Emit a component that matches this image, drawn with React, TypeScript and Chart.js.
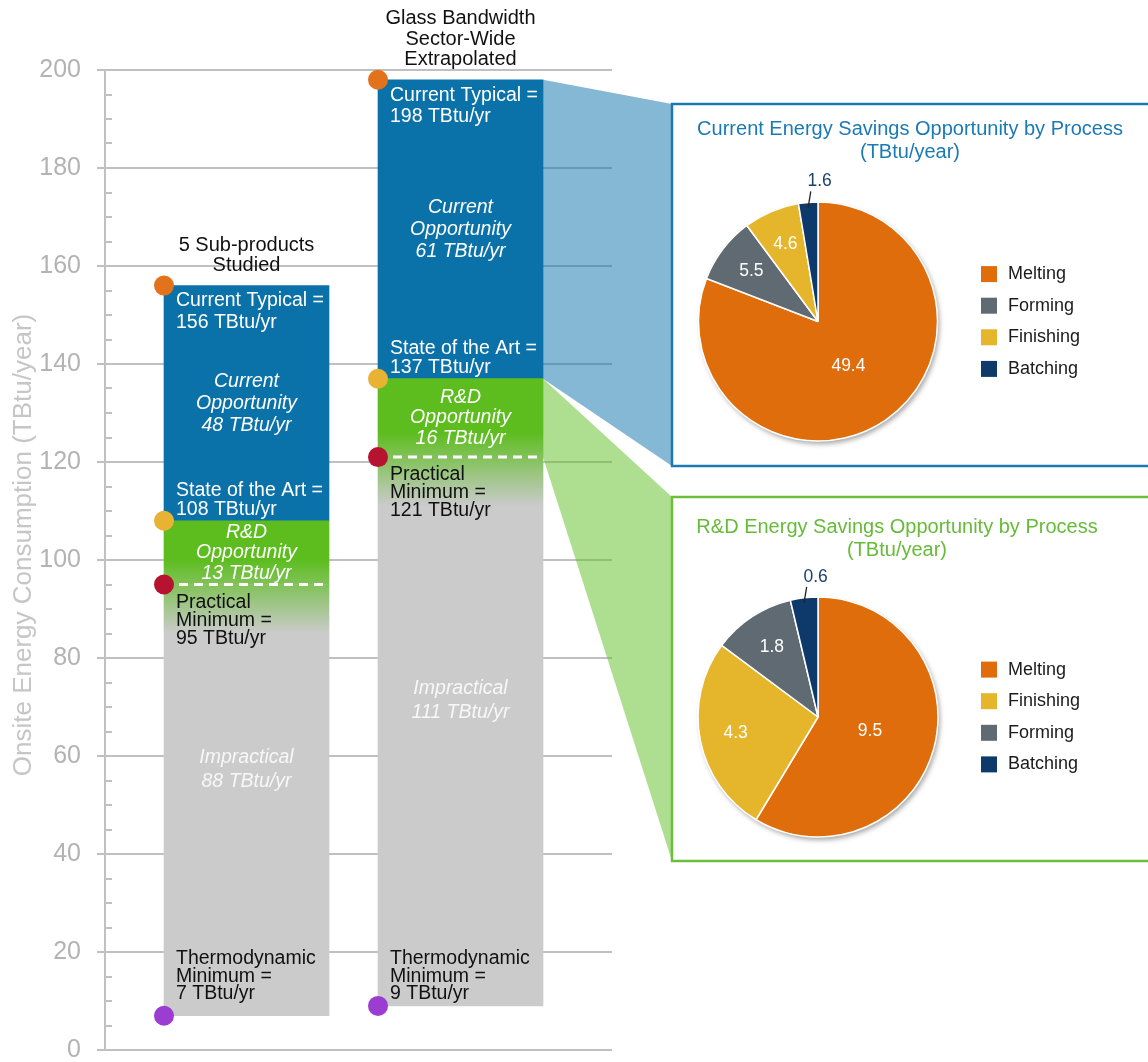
import React, { useEffect, useRef } from 'react';
import { Chart, registerables } from 'chart.js';

Chart.register(...registerables);

const W = 1148;
const H = 1062;
const FONT = '"Liberation Sans", Arial, Helvetica, sans-serif';

// ---------------- data ----------------
const barHeaders: string[][] = [
  ['5 Sub-products', 'Studied'],
  ['Glass Bandwidth', 'Sector-Wide', 'Extrapolated'],
];
const barSlots = [1, 2];
const currentTypical = [156, 198];
const stateOfTheArt = [108, 137];
const practicalMinimum = [95, 121];
const thermodynamicMinimum = [7, 9];
const currentOpportunity = [48, 61];
const rdOpportunity = [13, 16];
const impractical = [88, 111];

const yAxisMin = 0;
const yAxisMax = 200;
const yMajorStep = 20;
const yMinorStep = 5;
const yAxisTitle = 'Onsite Energy Consumption (TBtu/year)';

const currentPieTitle = ['Current Energy Savings Opportunity by Process', '(TBtu/year)'];
const currentPieLabels = ['Melting', 'Forming', 'Finishing', 'Batching'];
const currentPieValues = [49.4, 5.5, 4.6, 1.6];

const rdPieTitle = ['R&D Energy Savings Opportunity by Process', '(TBtu/year)'];
const rdPieLabels = ['Melting', 'Finishing', 'Forming', 'Batching'];
const rdPieValues = [9.5, 4.3, 1.8, 0.6];

// ---------------- styles / layout ----------------
const BLUE = '#0b72a9';
const GREEN = '#5dbd1f';
const GRAY = '#cbcbcb';
const AXIS_GRAY = '#c0c0c0';
const TEXT_DARK = '#111111';
const PROCESS_COLORS: Record<string, string> = {
  Melting: '#df6d0b',
  Forming: '#5f6a72',
  Finishing: '#e5b52c',
  Batching: '#0d3a6a',
};
const DOT = { typical: '#e2721b', art: '#e8b232', practical: '#b5132f', thermo: '#9b3dd1' };
const BAR_THICKNESS = 165;
const X_MIN = 0.3388;
const X_MAX = 2.7079;
const PLOT = { top: 70, bottom: 1050, left: 105, right: 612 };
const Y_TITLE_POS = { x: 24, y: 545 };
const FADE_ABOVE = 5;
const FADE_BELOW = 10;
const BOXES = [
  { x1: 672, y1: 104, x2: 1152, y2: 466, stroke: '#1c79b2', fill: 'rgba(11,114,169,0.5)' },
  { x1: 672, y1: 497, x2: 1152, y2: 861, stroke: '#6cbf3b', fill: 'rgba(93,189,31,0.5)' },
];
const PIE_LAYOUT = [
  { cx: 818, cy: 321.5, r: 119.5, titleX: 910, titleY: 129.5, titleColor: '#1b7ab4' },
  { cx: 818, cy: 717, r: 120, titleX: 897, titleY: 527.5, titleColor: '#66bb38' },
];
const PIE_BORDER = 1.5;

function drawLines(
  ctx: CanvasRenderingContext2D,
  arr: string[],
  x: number,
  y0: number,
  dy: number,
  align: CanvasTextAlign,
  font: string,
  color: string
) {
  ctx.font = font;
  ctx.fillStyle = color;
  ctx.textAlign = align;
  ctx.textBaseline = 'middle';
  arr.forEach((t, k) => ctx.fillText(t, x, y0 + k * dy));
}

const fadeFill = (c: any) => {
  const chart = c.chart;
  const y = chart.scales && chart.scales.y;
  if (c.type !== 'data' || !chart.chartArea || !y) return GREEN;
  const pm = practicalMinimum[c.dataIndex];
  const g = chart.ctx.createLinearGradient(
    0,
    y.getPixelForValue(pm + FADE_ABOVE),
    0,
    y.getPixelForValue(pm - FADE_BELOW)
  );
  g.addColorStop(0, GREEN);
  g.addColorStop(1, GRAY);
  return g;
};

const mainPlugin = {
  id: 'bandwidthOverlay',
  beforeDatasetsDraw(chart: any) {
    const { ctx, chartArea, scales } = chart;
    const y = scales.y;
    ctx.save();
    // y axis title
    ctx.save();
    ctx.translate(Y_TITLE_POS.x, Y_TITLE_POS.y);
    ctx.rotate(-Math.PI / 2);
    drawLines(ctx, [yAxisTitle], 0, 0, 0, 'center', `26px ${FONT}`, '#c6c6c6');
    ctx.restore();
    // minor tick marks
    ctx.strokeStyle = AXIS_GRAY;
    ctx.lineWidth = 2;
    for (let v = yAxisMin + yMinorStep; v < yAxisMax; v += yMinorStep) {
      if (v % yMajorStep === 0) continue;
      const py = Math.round(y.getPixelForValue(v));
      ctx.beginPath();
      ctx.moveTo(chartArea.left, py);
      ctx.lineTo(chartArea.left + 7, py);
      ctx.stroke();
    }
    // connectors from the sector-wide bar to the pie boxes
    const el = chart.getDatasetMeta(2).data[1];
    const xr = el.x + el.width / 2;
    const spans: [number, number][] = [
      [currentTypical[1], stateOfTheArt[1]],
      [stateOfTheArt[1], practicalMinimum[1]],
    ];
    spans.forEach(([top, bottom], k) => {
      const box = BOXES[k];
      ctx.fillStyle = box.fill;
      ctx.beginPath();
      ctx.moveTo(xr, y.getPixelForValue(top));
      ctx.lineTo(box.x1, box.y1);
      ctx.lineTo(box.x1, box.y2);
      ctx.lineTo(xr, y.getPixelForValue(bottom));
      ctx.closePath();
      ctx.fill();
    });
    ctx.restore();
  },
  afterDatasetsDraw(chart: any) {
    const { ctx, chartArea, scales } = chart;
    const y = scales.y;
    ctx.save();
    const reg = `19.5px ${FONT}`;
    const ital = `italic 19.5px ${FONT}`;
    const metas = chart.getDatasetMeta(2).data;
    barSlots.forEach((_, i) => {
      const el = metas[i];
      const xl = el.x - el.width / 2;
      const xc = el.x;
      const yTop = y.getPixelForValue(currentTypical[i]);
      const ySA = y.getPixelForValue(stateOfTheArt[i]);
      const yPM = y.getPixelForValue(practicalMinimum[i]);
      const yTM = y.getPixelForValue(thermodynamicMinimum[i]);

      // dashed practical-minimum line
      ctx.save();
      ctx.strokeStyle = '#ffffff';
      ctx.lineWidth = 3;
      ctx.setLineDash([9, 6]);
      ctx.beginPath();
      ctx.moveTo(xl, yPM);
      ctx.lineTo(xl + el.width, yPM);
      ctx.stroke();
      ctx.restore();

      // headers
      const hdr = barHeaders[i];
      drawLines(ctx, hdr, xc, yTop - 20 - (hdr.length - 1) * 20.5, 20.5, 'center', `20px ${FONT}`, TEXT_DARK);

      drawLines(ctx, ['Current Typical =', `${currentTypical[i]} TBtu/yr`], xl + 12, yTop + 15.5, 21.5, 'left', reg, '#ffffff');
      drawLines(ctx, ['Current', 'Opportunity', `${currentOpportunity[i]} TBtu/yr`], xc, (yTop + ySA) / 2 - 22, 22, 'center', ital, '#ffffff');
      drawLines(ctx, ['State of the Art =', `${stateOfTheArt[i]} TBtu/yr`], xl + 12, ySA - 30.5, 19.5, 'left', reg, '#ffffff');
      drawLines(ctx, ['R&D', 'Opportunity', `${rdOpportunity[i]} TBtu/yr`], xc, (ySA + yPM) / 2 - 20.5, 20.5, 'center', ital, '#ffffff');
      drawLines(ctx, ['Practical', 'Minimum =', `${practicalMinimum[i]} TBtu/yr`], xl + 12, yPM + 18, 18, 'left', reg, TEXT_DARK);
      drawLines(ctx, ['Impractical', `${impractical[i]} TBtu/yr`], xc, (yPM + yTM) / 2 - 31 - 12, 24, 'center', ital, 'rgba(255,255,255,0.85)');
      drawLines(ctx, ['Thermodynamic', 'Minimum =', `${thermodynamicMinimum[i]} TBtu/yr`], xl + 12, chartArea.bottom - 91, 17.5, 'left', reg, TEXT_DARK);

      // marker dots
      const dots: [number, string][] = [
        [currentTypical[i], DOT.typical],
        [stateOfTheArt[i], DOT.art],
        [practicalMinimum[i], DOT.practical],
        [thermodynamicMinimum[i], DOT.thermo],
      ];
      dots.forEach(([v, col]) => {
        ctx.fillStyle = col;
        ctx.beginPath();
        ctx.arc(xl, y.getPixelForValue(v), 10, 0, Math.PI * 2);
        ctx.fill();
      });
    });

    // pie boxes
    BOXES.forEach((b) => {
      ctx.strokeStyle = b.stroke;
      ctx.lineWidth = 2.5;
      ctx.strokeRect(b.x1, b.y1, b.x2 - b.x1, b.y2 - b.y1);
    });
    ctx.restore();
  },
};

function makePiePlugin(title: string[], layout: (typeof PIE_LAYOUT)[number]) {
  return {
    id: 'pieDecor',
    beforeDatasetsDraw(chart: any) {
      const arc = chart.getDatasetMeta(0).data[0];
      if (!arc) return;
      const ctx = chart.ctx;
      ctx.save();
      ctx.shadowColor = 'rgba(0,0,0,0.35)';
      ctx.shadowBlur = 5;
      ctx.shadowOffsetX = 2;
      ctx.shadowOffsetY = 3;
      ctx.fillStyle = '#ffffff';
      ctx.beginPath();
      ctx.arc(arc.x, arc.y, arc.outerRadius, 0, Math.PI * 2);
      ctx.fill();
      ctx.restore();
    },
    afterDatasetsDraw(chart: any) {
      const ctx = chart.ctx;
      const ds = chart.data.datasets[0];
      const values: number[] = ds.data as number[];
      const labels: string[] = chart.data.labels as string[];
      const total = values.reduce((a, b) => a + b, 0);
      const maxV = Math.max(...values);
      const arcs = chart.getDatasetMeta(0).data;
      ctx.save();
      arcs.forEach((a: any, i: number) => {
        const mid = (a.startAngle + a.endAngle) / 2;
        const R = a.outerRadius;
        const txt = values[i].toFixed(1);
        if (values[i] / total < 0.05) {
          const ex = a.x + R * Math.cos(mid);
          const ey = a.y + R * Math.sin(mid);
          ctx.strokeStyle = '#222222';
          ctx.lineWidth = 1.3;
          ctx.beginPath();
          ctx.moveTo(ex, ey + 5);
          ctx.lineTo(ex + 2.6, ey - 11);
          ctx.stroke();
          drawLines(ctx, [txt], ex + 11.5, ey - 21, 0, 'center', `17.5px ${FONT}`, '#1b3f6e');
        } else {
          const rr = values[i] === maxV ? 0.45 * R : 0.7 * R;
          drawLines(ctx, [txt], a.x + rr * Math.cos(mid), a.y + rr * Math.sin(mid), 0, 'center', `17.5px ${FONT}`, '#ffffff');
        }
      });
      // title
      drawLines(ctx, title, layout.titleX, layout.titleY, 22.5, 'center', `20px ${FONT}`, layout.titleColor);
      // legend
      labels.forEach((l, k) => {
        const ry = layout.cy + (k - (labels.length - 1) / 2) * 31.6;
        ctx.fillStyle = PROCESS_COLORS[l];
        ctx.fillRect(layout.cx + 163, ry - 8, 16, 16);
        drawLines(ctx, [l], layout.cx + 190, ry, 0, 'left', `18px ${FONT}`, '#1a1a1a');
      });
      ctx.restore();
    },
  };
}

function pieConfig(title: string[], labels: string[], values: number[], layout: (typeof PIE_LAYOUT)[number]): any {
  const side = 2 * layout.r + PIE_BORDER;
  return {
    type: 'pie',
    data: {
      labels,
      datasets: [
        {
          data: values,
          backgroundColor: labels.map((l) => PROCESS_COLORS[l]),
          borderColor: '#ffffff',
          borderWidth: PIE_BORDER,
        },
      ],
    },
    options: {
      responsive: false,
      animation: false,
      events: [],
      layout: {
        padding: {
          left: layout.cx - side / 2,
          top: layout.cy - side / 2,
          right: W - layout.cx - side / 2,
          bottom: H - layout.cy - side / 2,
        },
      },
      plugins: { legend: { display: false }, tooltip: { enabled: false }, title: { display: false } },
    },
    plugins: [makePiePlugin(title, layout)],
  };
}

export default function App() {
  const mainRef = useRef<HTMLCanvasElement>(null);
  const pie1Ref = useRef<HTMLCanvasElement>(null);
  const pie2Ref = useRef<HTMLCanvasElement>(null);

  useEffect(() => {
    document.body.style.margin = '0';
    document.body.style.overflow = 'hidden';
    const charts: Chart[] = [];
    const seg = (lo: number[], hi: number[]) => barSlots.map((x, i) => ({ x, y: [lo[i], hi[i]] }));
    const common = { barThickness: BAR_THICKNESS, grouped: false, borderWidth: 0 };
    charts.push(
      new Chart(mainRef.current as HTMLCanvasElement, {
        type: 'bar',
        data: {
          datasets: [
            { label: 'Impractical', data: seg(thermodynamicMinimum, practicalMinimum), backgroundColor: fadeFill, ...common },
            { label: 'R&D Opportunity', data: seg(practicalMinimum, stateOfTheArt), backgroundColor: fadeFill, ...common },
            { label: 'Current Opportunity', data: seg(stateOfTheArt, currentTypical), backgroundColor: BLUE, ...common },
          ] as any,
        },
        options: {
          responsive: false,
          animation: false,
          events: [],
          layout: { padding: { top: PLOT.top, bottom: H - PLOT.bottom, left: 0, right: W - PLOT.right } },
          plugins: { legend: { display: false }, tooltip: { enabled: false }, title: { display: false } },
          scales: {
            x: { type: 'linear', display: false, offset: false, min: X_MIN, max: X_MAX, grid: { offset: false } },
            y: {
              min: yAxisMin,
              max: yAxisMax,
              ticks: {
                stepSize: yMajorStep,
                padding: 16,
                color: '#b3b3b3',
                font: { family: FONT, size: 25, lineHeight: 1 },
              },
              grid: { color: AXIS_GRAY, lineWidth: 2, tickLength: 8, drawTicks: true },
              border: { display: true, color: AXIS_GRAY, width: 2 },
              title: { display: false },
              afterFit: (s: any) => {
                s.width = PLOT.left;
                s.paddingTop = 0;
                s.paddingBottom = 0;
              },
            },
          },
        } as any,
        plugins: [mainPlugin as any],
      })
    );
    charts.push(new Chart(pie1Ref.current as HTMLCanvasElement, pieConfig(currentPieTitle, currentPieLabels, currentPieValues, PIE_LAYOUT[0])));
    charts.push(new Chart(pie2Ref.current as HTMLCanvasElement, pieConfig(rdPieTitle, rdPieLabels, rdPieValues, PIE_LAYOUT[1])));
    return () => charts.forEach((c) => c.destroy());
  }, []);

  const cs: React.CSSProperties = { position: 'absolute', left: 0, top: 0, width: W, height: H, display: 'block' };
  return (
    <div style={{ position: 'absolute', left: 0, top: 0, width: W, height: H, overflow: 'hidden', background: '#ffffff' }}>
      <canvas ref={mainRef} width={W} height={H} style={cs} />
      <canvas ref={pie1Ref} width={W} height={H} style={cs} />
      <canvas ref={pie2Ref} width={W} height={H} style={cs} />
    </div>
  );
}
